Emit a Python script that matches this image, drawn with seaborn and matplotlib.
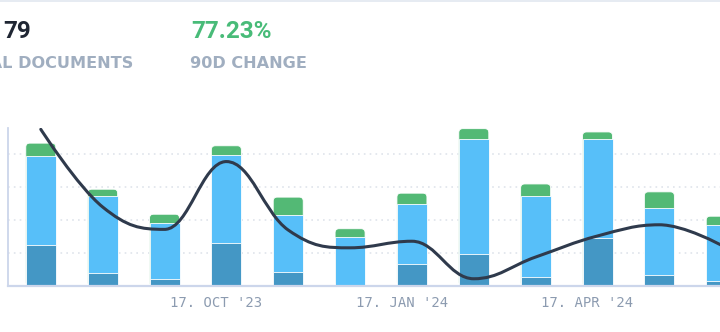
import numpy as np
import pandas as pd
import matplotlib
matplotlib.use("Agg")
import matplotlib.pyplot as plt
import matplotlib.transforms as mtransforms
from matplotlib.patches import FancyBboxPatch, PathPatch
from matplotlib.path import Path
from matplotlib.lines import Line2D
import seaborn as sns

# ---- data ----
months = ["Jul '23", "Aug '23", "Sep '23", "Oct '23", "Nov '23", "Dec '23",
          "Jan '24", "Feb '24", "Mar '24", "Apr '24", "May '24", "Jun '24"]
dark_vals = [62, 19, 10, 65, 21, 0, 33, 48, 13, 73, 16, 8]
light_vals = [136, 118, 85, 134, 87, 74, 92, 175, 123, 150, 103, 84]
green_vals = [19, 10, 14, 14, 27, 13, 16, 16, 19, 11, 24, 14]
trend_vals = [238, 120, 86, 189, 85, 58, 68, 11, 44, 76, 93, 62]
tick_months = ["Oct '23", "Jan '24", "Apr '24"]
tick_labels = ["17. OCT '23", "17. JAN '24", "17. APR '24"]
kpi_total_value = "79"
kpi_total_label = "TOTAL DOCUMENTS"
kpi_change_value = "77.23%"
kpi_change_label = "90D CHANGE"

DARK = "#4497c5"
LIGHT = "#57bff9"
GREEN = "#53b975"
LINE = "#2f3a4c"
AXIS = "#ccd6eb"
GRID = "#dfe4eb"
GREY_TXT = "#a0aec0"

df = pd.DataFrame({"month": months, "dark": dark_vals, "light": light_vals,
                   "green": green_vals, "trend": trend_vals})
df["lvl1"] = df["dark"]
df["lvl2"] = df["dark"] + df["light"]
df["lvl3"] = df["lvl2"] + df["green"]

sns.set_style("white")
W, H = 720, 332
fig = plt.figure(figsize=(W / 100, H / 100), dpi=100)
ax_left, ax_bottom, ax_top = 8, 286, 128
ax = fig.add_axes([ax_left / W, (H - ax_bottom) / H, (W - ax_left) / W, (ax_bottom - ax_top) / H])

bw = 0.485
sns.barplot(data=df, x="month", y="lvl3", color=GREEN, saturation=1, width=bw,
            errorbar=None, ax=ax, edgecolor="white", linewidth=0.6)
n_green = len(ax.patches)
sns.barplot(data=df, x="month", y="lvl2", color=LIGHT, saturation=1, width=bw,
            errorbar=None, ax=ax, edgecolor="white", linewidth=0.6)
sns.barplot(data=df[df["lvl1"] > 0], x="month", y="lvl1", color=DARK, saturation=1, width=bw,
            errorbar=None, ax=ax, edgecolor="white", linewidth=0.6, order=months)

ax.set_xlim(-0.53, 10.98)
ax.set_ylim(0, 240)

# pixel scales
ax_w_px = W - ax_left
ax_h_px = ax_bottom - ax_top
px_per_x = ax_w_px / (10.98 + 0.53)
px_per_y = ax_h_px / 240.0

# rounded tops on the green (total) bars
radius_px = 4.0
green_rects = list(ax.patches[:n_green])
for rect in green_rects:
    x0, y0 = rect.get_xy()
    w, h = rect.get_width(), rect.get_height()
    rect.remove()
    fb = FancyBboxPatch((x0, y0), w, h,
                        boxstyle=f"round,pad=0,rounding_size={radius_px / px_per_x}",
                        mutation_aspect=px_per_x / px_per_y,
                        facecolor=GREEN, edgecolor="white", linewidth=0.6, zorder=0.9)
    ax.add_patch(fb)

# smooth trend line (spline drawn through the points)
xs = np.arange(len(trend_vals), dtype=float) * px_per_x
ys = np.array(trend_vals, dtype=float) * px_per_y
sm = 1.5
den = sm + 1
n = len(xs)
lc = [(xs[i], ys[i]) for i in range(n)]
rc = [(xs[i], ys[i]) for i in range(n)]
for i in range(1, n - 1):
    lx = (sm * xs[i] + xs[i - 1]) / den
    ly = (sm * ys[i] + ys[i - 1]) / den
    rx = (sm * xs[i] + xs[i + 1]) / den
    ry = (sm * ys[i] + ys[i + 1]) / den
    corr = ((ry - ly) * (rx - xs[i])) / (rx - lx) + ys[i] - ry
    ly += corr
    ry += corr
    if ly > ys[i - 1] and ly > ys[i]:
        ly = max(ys[i - 1], ys[i]); ry = 2 * ys[i] - ly
    elif ly < ys[i - 1] and ly < ys[i]:
        ly = min(ys[i - 1], ys[i]); ry = 2 * ys[i] - ly
    if ry > ys[i + 1] and ry > ys[i]:
        ry = max(ys[i + 1], ys[i]); ly = 2 * ys[i] - ry
    elif ry < ys[i + 1] and ry < ys[i]:
        ry = min(ys[i + 1], ys[i]); ly = 2 * ys[i] - ry
    lc[i] = (lx, ly)
    rc[i] = (rx, ry)
verts = [(xs[0], ys[0])]
codes = [Path.MOVETO]
for i in range(1, n):
    verts += [rc[i - 1], lc[i], (xs[i], ys[i])]
    codes += [Path.CURVE4] * 3
verts = [(vx / px_per_x, vy / px_per_y) for vx, vy in verts]
ax.add_patch(PathPatch(Path(verts, codes), facecolor="none", edgecolor=LINE,
                       linewidth=2.2, zorder=5, capstyle="round", joinstyle="round"))

# grid & spines
ax.set_yticks([50, 100, 150, 200])
ax.yaxis.grid(True, color=GRID, linestyle=(0, (1, 2.5)), linewidth=1.2)
ax.set_axisbelow(True)
ax.tick_params(axis="y", left=False, labelleft=False)
for s in ["top", "right"]:
    ax.spines[s].set_visible(False)
ax.spines["left"].set_color(AXIS)
ax.spines["left"].set_linewidth(1.3)
ax.spines["bottom"].set_color(AXIS)
ax.spines["bottom"].set_linewidth(1.6)

ax.set_xticks([months.index(m) for m in tick_months])
ax.set_xticklabels(tick_labels, family="DejaVu Sans Mono", fontsize=10, color="#8c9bb0")
ax.tick_params(axis="x", length=0, pad=7.5)
offset = mtransforms.ScaledTranslation(-10 / 100, 0, fig.dpi_scale_trans)
for lab in ax.get_xticklabels():
    lab.set_transform(lab.get_transform() + offset)
ax.set_xlabel("")
ax.set_ylabel("")

# header KPIs
def fx(px):
    return px / W
def fy(py):
    return 1 - py / H

fig.text(fx(3), fy(38), kpi_total_value, family="Roboto", fontweight="bold",
         fontsize=17.5, color="#1f2633", ha="left", va="baseline")
fig.text(fx(191.5), fy(38), kpi_change_value, family="Roboto", fontweight="bold",
         fontsize=17.5, color="#48bb78", ha="left", va="baseline")
fig.text(fx(133.5), fy(68), kpi_total_label, family="DejaVu Sans", fontweight="bold",
         fontsize=11.6, color=GREY_TXT, ha="right", va="baseline")
fig.text(fx(190), fy(68), kpi_change_label, family="DejaVu Sans", fontweight="bold",
         fontsize=11.6, color=GREY_TXT, ha="left", va="baseline")

fig.add_artist(Line2D([0, 1], [fy(0.5), fy(0.5)], transform=fig.transFigure,
                      color="#e2e8f0", linewidth=1.2))

fig.savefig("out.png", dpi=100)
